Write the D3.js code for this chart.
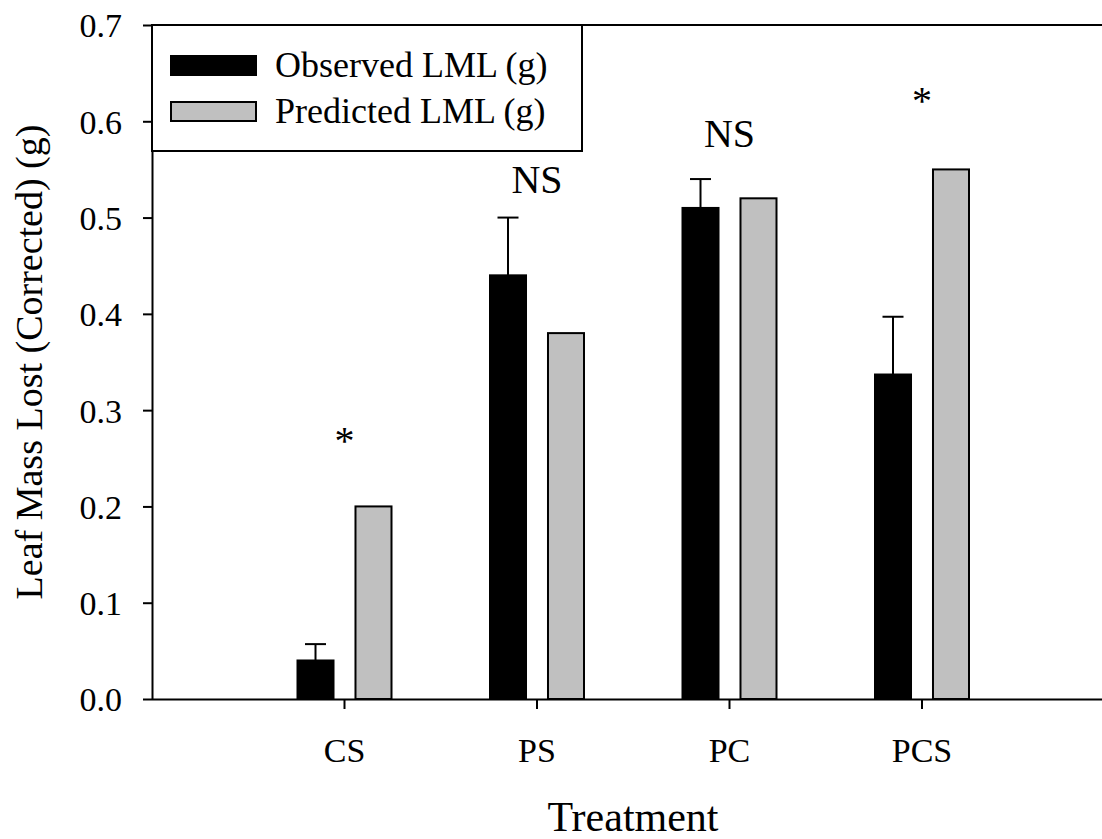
<!DOCTYPE html>
<html>
<head>
<meta charset="utf-8">
<script src="https://cdn.jsdelivr.net/npm/d3@7"></script>
<style>
  body { margin: 0; background: #fff; }
  svg { display: block; font-family: 'Liberation Serif', 'Times New Roman', serif; }
  .axis path, .axis line { stroke: #000; stroke-width: 2px; }
  .axis text { font-family: 'Liberation Serif', serif; font-size: 34px; fill: #000; }
</style>
</head>
<body>
<svg id="chart" width="1102" height="839"></svg>
<script>
const categories = ['CS', 'PS', 'PC', 'PCS'];
const series = ['Observed LML (g)', 'Predicted LML (g)'];
const observed = [0.04, 0.44, 0.51, 0.337];
const observedErr = [0.017, 0.06, 0.03, 0.06];
const predicted = [0.20, 0.38, 0.52, 0.55];
const sigLabels = ['*', 'NS', 'NS', '*'];
const sigLevels = [0.254, 0.526, 0.573, 0.608];
const yTicks = [0, 0.1, 0.2, 0.3, 0.4, 0.5, 0.6, 0.7];

var svg = d3.select('#chart'),
  width = +svg.attr('width'),
  height = +svg.attr('height');

const PLOT_LEFT = 152, PLOT_TOP = 25, PLOT_BOTTOM = 699;

var x = d3.scaleBand()
  .domain(categories)
  .range([PLOT_LEFT, PLOT_LEFT + 5 * 192.5])
  .paddingInner(0)
  .paddingOuter(0.5);

var xInner = d3.scaleBand()
  .domain(series)
  .range([-47, 47])
  .paddingInner(0.379)
  .paddingOuter(0);

var y = d3.scaleLinear().domain([0, 0.7]).range([PLOT_BOTTOM, PLOT_TOP]);

var color = d3.scaleOrdinal().domain(series).range(['#000000', '#c0c0c0']);

// top frame line
svg.append('line')
  .attr('x1', PLOT_LEFT).attr('x2', width)
  .attr('y1', y(0.7)).attr('y2', y(0.7))
  .attr('stroke', '#000').attr('stroke-width', 2);

// bars
var rows = categories.map((c, i) => ({
  cat: c,
  values: [
    { key: series[0], value: observed[i], err: observedErr[i] },
    { key: series[1], value: predicted[i] }
  ]
}));

var group = svg.selectAll('g.cat')
  .data(rows)
  .enter()
  .append('g')
  .attr('class', 'cat')
  .attr('transform', d => `translate(${x(d.cat) + x.bandwidth() / 2},0)`);

// error bars (upper only), drawn behind the bars
group.each(function (d) {
  var o = d.values[0];
  var cx = xInner(o.key) + xInner.bandwidth() / 2;
  var g = d3.select(this);
  g.append('line')
    .attr('x1', cx).attr('x2', cx)
    .attr('y1', y(o.value)).attr('y2', y(o.value + o.err))
    .attr('stroke', '#000').attr('stroke-width', 2);
  g.append('line')
    .attr('x1', cx - 10.5).attr('x2', cx + 10.5)
    .attr('y1', y(o.value + o.err)).attr('y2', y(o.value + o.err))
    .attr('stroke', '#000').attr('stroke-width', 2);
});

group.selectAll('rect')
  .data(d => d.values)
  .enter()
  .append('rect')
  .attr('x', d => xInner(d.key))
  .attr('y', d => y(d.value))
  .attr('width', xInner.bandwidth())
  .attr('height', d => y(0) - y(d.value))
  .attr('fill', d => color(d.key))
  .attr('stroke', '#000')
  .attr('stroke-width', 2);

// significance labels
svg.selectAll('text.sig')
  .data(categories)
  .enter()
  .append('text')
  .attr('class', 'sig')
  .attr('x', d => x(d) + x.bandwidth() / 2)
  .attr('y', (d, i) => y(sigLevels[i]))
  .attr('text-anchor', 'middle')
  .style('font-size', '40px')
  .text((d, i) => sigLabels[i]);

// axes
var yAxis = svg.append('g')
  .attr('class', 'axis')
  .attr('transform', `translate(${PLOT_LEFT},0)`)
  .call(d3.axisLeft(y).tickValues(yTicks).tickFormat(d3.format('.1f')).tickSize(9).tickSizeOuter(0).tickPadding(21));
yAxis.selectAll('text').attr('dy', '0.35em');

var xAxis = svg.append('g')
  .attr('class', 'axis')
  .attr('transform', `translate(0,${PLOT_BOTTOM})`)
  .call(d3.axisBottom(x).tickSize(10).tickSizeOuter(0).tickPadding(0));
xAxis.select('.domain').attr('d', `M${PLOT_LEFT},0.5H${width}`);
xAxis.selectAll('text').attr('y', 63).attr('dy', 0);

// axis titles
svg.append('text')
  .attr('x', 633)
  .attr('y', 831)
  .attr('text-anchor', 'middle')
  .style('font-size', '42px')
  .text('Treatment');

svg.append('text')
  .attr('transform', `translate(42,${(PLOT_TOP + PLOT_BOTTOM) / 2}) rotate(-90)`)
  .attr('text-anchor', 'middle')
  .style('font-size', '38px')
  .text('Leaf Mass Lost (Corrected) (g)');

// legend
var legend = svg.append('g');
legend.append('rect')
  .attr('x', PLOT_LEFT).attr('y', PLOT_TOP)
  .attr('width', 582 - PLOT_LEFT).attr('height', 151 - PLOT_TOP)
  .attr('fill', '#fff').attr('stroke', '#000').attr('stroke-width', 2);

var legendElem = legend.selectAll('g')
  .data(series)
  .enter()
  .append('g')
  .attr('transform', (d, i) => `translate(171,${66 + i * 46})`);

legendElem.append('rect')
  .attr('x', 0).attr('y', -10)
  .attr('width', 85).attr('height', 19)
  .attr('fill', d => color(d))
  .attr('stroke', '#000').attr('stroke-width', 2);

legendElem.append('text')
  .attr('x', 104).attr('y', 11)
  .style('font-size', '36px')
  .text(d => d);
</script>
</body>
</html>
